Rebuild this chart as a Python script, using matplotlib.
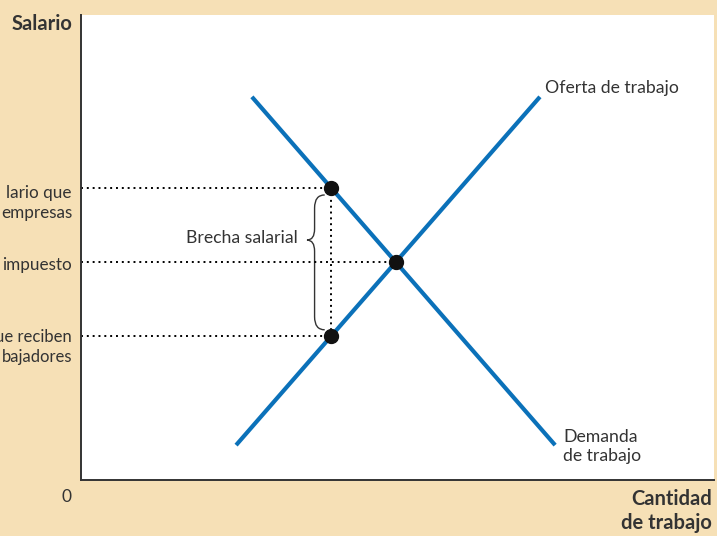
import matplotlib
matplotlib.use('Agg')
import matplotlib.pyplot as plt
from matplotlib.path import Path
from matplotlib.patches import PathPatch

# curvas (coordenadas de los extremos, escala 0-100)
oferta_x = [24.5, 72.5]
oferta_y = [7.5, 82.4]
demanda_x = [27.0, 74.9]
demanda_y = [82.4, 7.5]

# puntos marcados
puntos_x = [39.5, 39.5, 49.75]
puntos_y = [62.8, 31.0, 46.9]

salario_empresas = 62.8
salario_sin_imp = 46.9
salario_trabajadores = 31.0

etiquetas_y = ['lario que\nempresas', 'impuesto', 'ue reciben\nbajadores']

plt.rcParams['font.family'] = ['Lato', 'DejaVu Sans']
fondo = '#f6e0b6'
azul = '#0b71b9'
gris = '#333333'

fig = plt.figure(figsize=(7.17, 5.36), dpi=100, facecolor=fondo)
ax = fig.add_axes([81/717, 1-480/536, 633/717, 465/536])
ax.set_xlim(0, 100)
ax.set_ylim(0, 100)
ax.set_facecolor('white')
for s in ['top', 'right']:
	ax.spines[s].set_visible(False)
for s in ['left', 'bottom']:
	ax.spines[s].set_color(gris)
	ax.spines[s].set_linewidth(1.4)
ax.set_xticks([])
ax.set_yticks([])

# lineas punteadas
pts = dict(color='black', lw=1.4, ls=(0, (1, 2)))
ax.plot([0, puntos_x[0]], [salario_empresas]*2, **pts)
ax.plot([0, puntos_x[2]], [salario_sin_imp]*2, **pts)
ax.plot([0, puntos_x[1]], [salario_trabajadores]*2, **pts)
ax.plot([puntos_x[0]]*2, [salario_trabajadores, salario_empresas], **pts)

ax.plot(oferta_x, oferta_y, color=azul, lw=3, solid_capstyle='butt')
ax.plot(demanda_x, demanda_y, color=azul, lw=3, solid_capstyle='butt')
ax.plot(puntos_x, puntos_y, 'o', color='#111111', ms=10, zorder=5)

# llave
verts = [(38.5, 61.3), (36.9, 61.3), (36.9, 58.5),
	(36.9, 54.0), (36.9, 51.6), (35.7, 51.6),
	(36.9, 51.6), (36.9, 49.2),
	(36.9, 35.1), (36.9, 32.3), (38.5, 32.3)]
codes = [Path.MOVETO, Path.CURVE3, Path.CURVE3,
	Path.LINETO, Path.CURVE3, Path.CURVE3,
	Path.CURVE3, Path.CURVE3,
	Path.LINETO, Path.CURVE3, Path.CURVE3]
ax.add_patch(PathPatch(Path(verts, codes), fc='none', ec=gris, lw=1.0))

ax.text(34.3, 52.0, 'Brecha salarial', ha='right', va='center', fontsize=12.7, color=gris)
ax.text(73.3, 84.3, 'Oferta de trabajo', ha='left', va='center', fontsize=12.7, color=gris)
ax.text(76.2, 7.2, 'Demanda\nde trabajo', ha='left', va='center', fontsize=12.7, color=gris, linespacing=1.3)

# etiquetas del eje y
fig.text(72/717, 1-24/536, 'Salario', ha='right', va='center', fontsize=14.5, fontweight='bold', color=gris)
fig.text(72/717, 1-203/536, etiquetas_y[0], ha='right', va='center', fontsize=12.3, color=gris, linespacing=1.3, multialignment='right')
fig.text(72/717, 1-265/536, etiquetas_y[1], ha='right', va='center', fontsize=12.3, color=gris)
fig.text(72/717, 1-347/536, etiquetas_y[2], ha='right', va='center', fontsize=12, color=gris, linespacing=1.35, multialignment='right')
fig.text(66/717, 1-497/536, '0', ha='center', va='center', fontsize=12.5, color=gris)
fig.text(712/717, 1-511/536, 'Cantidad\nde trabajo', ha='right', va='center', fontsize=14.5, fontweight='bold', color=gris, linespacing=1.2, multialignment='right')

fig.savefig('out.png', dpi=100, facecolor=fondo)
